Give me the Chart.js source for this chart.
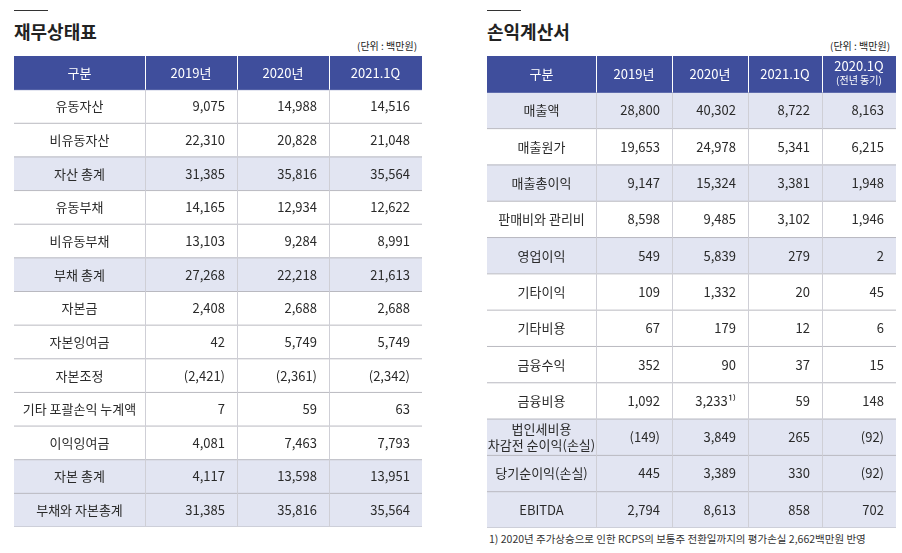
<!DOCTYPE html>
<html><head><meta charset="utf-8">
<script src="https://cdn.jsdelivr.net/npm/chart.js@4.4.1/dist/chart.umd.min.js"></script>
<style>
body{margin:0;width:902px;height:553px;background:#fff;font-family:"Noto Sans CJK KR","Noto Sans",sans-serif;color:#222;position:relative;overflow:hidden}
.t{position:absolute;font-size:18px;font-weight:bold;top:18px}
.t:before{content:"";position:absolute;left:0;top:-8px;width:34px;border-top:1.5px solid #333}
.u{position:absolute;font-size:10px;top:38px}
.box{position:absolute}
.fn{position:absolute;left:489px;top:531px;font-size:10.5px;color:#333}
</style></head><body>
<div class="t" style="left:14px">재무상태표</div>
<div class="u" style="left:357px">(단위 : 백만원)</div>
<div class="t" style="left:487px">손익계산서</div>
<div class="u" style="left:830px">(단위 : 백만원)</div>
<div class="box" style="left:14px;top:56px;width:408px;height:471px"><canvas id="bs"></canvas></div>
<div class="box" style="left:487px;top:56px;width:409px;height:472px"><canvas id="is"></canvas></div>
<div class="fn">1) 2020년 주가상승으로 인한 RCPS의 보통주 전환일까지의 평가손실 2,662백만원 반영</div>
<script>
const bsHeader = ["구분", "2019년", "2020년", "2021.1Q"];
const bsRows = ["유동자산", "비유동자산", "자산 총계", "유동부채", "비유동부채", "부채 총계", "자본금", "자본잉여금", "자본조정", "기타 포괄손익 누계액", "이익잉여금", "자본 총계", "부채와 자본총계"];
const bs2019 = ["9,075", "22,310", "31,385", "14,165", "13,103", "27,268", "2,408", "42", "(2,421)", "7", "4,081", "4,117", "31,385"];
const bs2020 = ["14,988", "20,828", "35,816", "12,934", "9,284", "22,218", "2,688", "5,749", "(2,361)", "59", "7,463", "13,598", "35,816"];
const bs2021 = ["14,516", "21,048", "35,564", "12,622", "8,991", "21,613", "2,688", "5,749", "(2,342)", "63", "7,793", "13,951", "35,564"];
const bsTotals = ["자산 총계", "부채 총계", "자본 총계", "부채와 자본총계"];

const isHeader = ["구분", "2019년", "2020년", "2021.1Q", "2020.1Q\n(전년 동기)"];
const isRows = ["매출액", "매출원가", "매출총이익", "판매비와 관리비", "영업이익", "기타이익", "기타비용", "금융수익", "금융비용", "법인세비용\n차감전 순이익(손실)", "당기순이익(손실)", "EBITDA"];
const is2019 = ["28,800", "19,653", "9,147", "8,598", "549", "109", "67", "352", "1,092", "(149)", "445", "2,794"];
const is2020 = ["40,302", "24,978", "15,324", "9,485", "5,839", "1,332", "179", "90", "3,233¹⁾", "3,849", "3,389", "8,613"];
const is2021 = ["8,722", "5,341", "3,381", "3,102", "279", "20", "12", "37", "59", "265", "330", "858"];
const is2020q = ["8,163", "6,215", "1,948", "1,946", "2", "45", "6", "15", "148", "(92)", "(92)", "702"];
const isTotals = ["매출액", "매출총이익", "영업이익", "법인세비용\n차감전 순이익(손실)", "당기순이익(손실)", "EBITDA"];

const HEAD = "#3f4e9c", SHADE = "#e2e5f2";
const FONT = '"Noto Sans CJK KR","Noto Sans",sans-serif';

function makeTable(id, header, rows, cols, totals, edges) {
  const labels = ["__h"].concat(rows);
  const colors = labels.map((l, i) => i === 0 ? HEAD : totals.includes(l) ? SHADE : "#ffffff");
  const textPlugin = {
    id: "cells",
    afterDatasetsDraw(chart) {
      const { ctx, scales: { x, y } } = chart;
      const half = (y.getPixelForValue(1) - y.getPixelForValue(0)) / 2;
      ctx.save();
      // grid lines
      labels.forEach((l, i) => {
        const yb = y.getPixelForValue(i) + half;
        ctx.strokeStyle = i === 0 ? HEAD : "#b9b9c0";
        ctx.lineWidth = 1;
        ctx.beginPath(); ctx.moveTo(x.getPixelForValue(0), yb); ctx.lineTo(x.getPixelForValue(1), yb); ctx.stroke();
        for (let c = 1; c < edges.length - 1; c++) {
          const xp = Math.round(x.getPixelForValue(edges[c])) + 0.5;
          ctx.strokeStyle = i === 0 ? "#ffffff" : "#cfcfd6";
          ctx.beginPath(); ctx.moveTo(xp, yb - 2 * half); ctx.lineTo(xp, yb); ctx.stroke();
        }
      });
      ctx.textBaseline = "middle";
      labels.forEach((l, i) => {
        const yc = y.getPixelForValue(i);
        const cells = i === 0 ? header : [l].concat(cols.map(a => a[i - 1]));
        cells.forEach((txt, c) => {
          const x0 = x.getPixelForValue(edges[c]), x1 = x.getPixelForValue(edges[c + 1]);
          const lines = txt.split("\n");
          ctx.fillStyle = i === 0 ? "#ffffff" : "#2a2a2a";
          lines.forEach((ln, k) => {
            const small = i === 0 && k > 0;
            ctx.font = (small ? "10px " : "13px ") + FONT;
            const yy = yc + (k - (lines.length - 1) / 2) * (small ? 15 : 16);
            if (i === 0 || c === 0) { ctx.textAlign = "center"; ctx.fillText(ln, (x0 + x1) / 2, yy + (small ? -1 : 0)); }
            else { ctx.textAlign = "right"; ctx.fillText(ln, x1 - 12, yy); }
          });
        });
      });
      ctx.restore();
    }
  };
  new Chart(document.getElementById(id), {
    type: "bar",
    data: {
      labels,
      datasets: [{ data: labels.map(() => [0, 1]), backgroundColor: colors, barPercentage: 1, categoryPercentage: 1, borderWidth: 0 }]
    },
    options: {
      indexAxis: "y", responsive: true, maintainAspectRatio: false, animation: false,
      layout: { padding: 0 },
      plugins: { legend: { display: false }, tooltip: { enabled: false } },
      scales: {
        x: { type: "linear", min: 0, max: 1, display: false },
        y: { display: false }
      }
    },
    plugins: [textPlugin]
  });
}

makeTable("bs", bsHeader, bsRows, [bs2019, bs2020, bs2021], bsTotals, [0, 131 / 408, 223 / 408, 315 / 408, 1]);
makeTable("is", isHeader, isRows, [is2019, is2020, is2021, is2020q], isTotals, [0, 109 / 409, 185 / 409, 261 / 409, 335 / 409, 1]);
</script>
</body></html>
